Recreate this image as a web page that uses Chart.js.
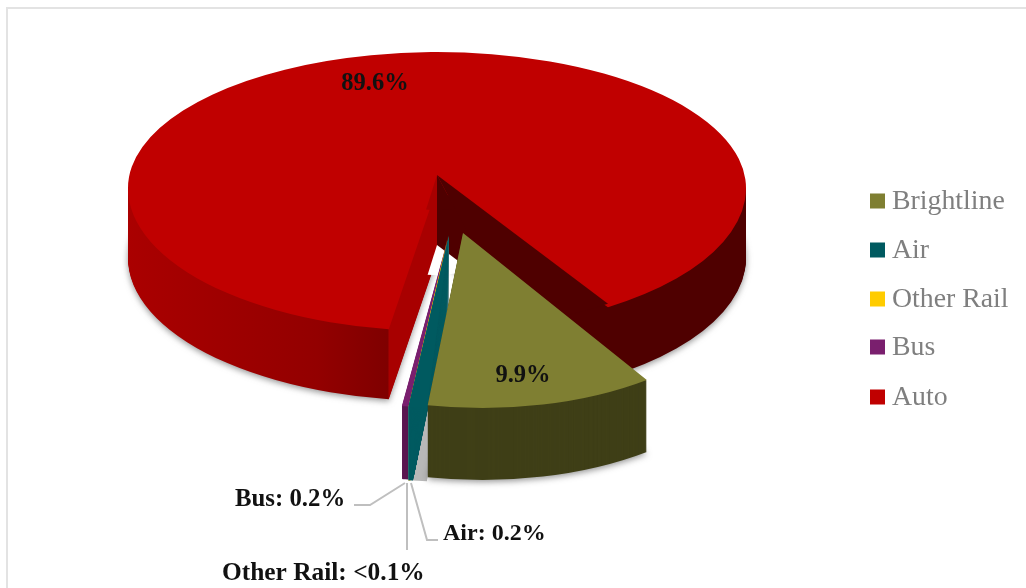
<!DOCTYPE html>
<html>
<head>
<meta charset="utf-8">
<style>
  html, body { margin: 0; padding: 0; background: #fff; }
  #frame { position: absolute; left: 6px; top: 7px; right: 0; bottom: 0; border-left: 2px solid #e3e3e3; border-top: 2px solid #e3e3e3; }
  #mainChart { position: absolute; left: 0; top: 0; }
</style>
</head>
<body>
<div id="frame"></div>
<canvas id="mainChart" width="1026" height="588"></canvas>
<script src="https://cdn.jsdelivr.net/npm/chart.js@4"></script>
<script>
const categories = ["Brightline", "Air", "Other Rail", "Bus", "Auto"];
const shares = [9.9, 0.2, 0.05, 0.2, 89.6];
const sliceColors = ["#7f7f32", "#005a60", "#ffcc00", "#7a1f6e", "#c00000"];

const pieRadius = 309;
const startRotation = 147;

// 3D look: where each slice sits, how much it is tilted and how tall its wall is.
// fromAdj / toAdj are degrees added to the slice edges, perspective widens the front of the pie
const sliceViews = [
  { x: 463, y: 233, k: 0.565, shear: 0.036, fromAdj: -3.5, toAdj: 3.9, depth: 72, wall: "#3f3f17", shadow: true },
  { x: 449, y: 235, k: 0.562, fromAdj: 1.44, toAdj: 4.2, depth: 73, wall: "#005a60", under: "#b8b8b8", taper: 2.6 },
  { x: 448, y: 236, k: 0.56, fromAdj: 3.6, toAdj: 3.84, depth: 73, wall: "#c9a000" },
  { x: 448, y: 238, k: 0.55, fromAdj: 3.84, toAdj: 4.3, depth: 73, wall: "#5a1650" },
  { x: 437, y: 188, k: 0.463, kBack: 0.44, fromAdj: 4.7, toAdj: -0.6, depth: 70, shadow: true }
];
const drawOrder = [4, 3, 2, 1, 0];

// the Auto walls, light on the left and dark on the right of the cut
const autoWallStops = [[-309, "#aa0000"], [-120, "#930000"], [-49, "#7f0000"], [-48, "#a80000"], [0, "#a80000"], [0.5, "#4f0000"], [309, "#4f0000"]];

const dataLabels = [
  { text: "89.6%", x: 375, y: 84, align: "center", size: 24.5 },
  { text: "9.9%", x: 523, y: 376, align: "center", size: 24.5 },
  { text: "Bus: 0.2%", x: 235, y: 500, align: "left", size: 24.8 },
  { text: "Air: 0.2%", x: 443, y: 534, align: "left", size: 24 },
  { text: "Other Rail: <0.1%", x: 222, y: 573, align: "left", size: 25.4 }
];
const leaderLines = [
  [[354, 505], [370, 505], [405, 483]],
  [[407, 483], [407, 550]],
  [[411, 483], [427, 540], [438, 540]]
];
const legendRows = [201, 250, 299, 347, 397];

function rad(deg) {
  return deg * Math.PI / 180;
}

// copy of the arc element with other edges and fill, still drawn by ArcElement.draw
function ghostArc(arc, view, fill, extraFrom) {
  const g = Object.create(arc);
  g.startAngle = arc.startAngle + rad(view.fromAdj + (extraFrom || 0));
  g.endAngle = arc.endAngle + rad(view.toAdj);
  g.circumference = g.endAngle - g.startAngle;
  g.options = { ...arc.options, backgroundColor: fill };
  return g;
}

function stamp(ctx, ghost, arc, view, k, dy) {
  ctx.save();
  ctx.translate(view.x, view.y + dy);
  ctx.transform(1, view.shear || 0, 0, k, 0, 0);
  ctx.translate(-arc.x, -arc.y);
  ghost.draw(ctx);
  ctx.restore();
}

function paintWalls(ctx, arc, view, fill, taper) {
  for (let i = view.depth; i >= 1; i--) {
    ctx.save();
    if (i === view.depth && view.shadow) {
      ctx.shadowColor = "rgba(60,60,60,0.55)";
      ctx.shadowBlur = 6;
      ctx.shadowOffsetY = 2;
    }
    stamp(ctx, ghostArc(arc, view, fill, taper * i / view.depth), arc, view, view.k, i);
    ctx.restore();
  }
}

function clipped(ctx, top, height, draw) {
  ctx.save();
  ctx.beginPath();
  ctx.rect(0, top, 1026, height);
  ctx.clip();
  draw();
  ctx.restore();
}

function notch(ctx, arc, apex, from, to, radius, fill) {
  const g = Object.create(arc);
  g.startAngle = rad(from);
  g.endAngle = rad(to);
  g.circumference = g.endAngle - g.startAngle;
  g.outerRadius = radius;
  g.options = { ...arc.options, backgroundColor: fill };
  stamp(ctx, g, arc, apex, 0.5, 0);
}

function paintAuto(ctx, arc, view) {
  const grad = ctx.createLinearGradient(arc.x - pieRadius, 0, arc.x + pieRadius, 0);
  autoWallStops.forEach(s => grad.addColorStop((s[0] + pieRadius) / (2 * pieRadius), s[1]));

  // walls only below the middle of the pie
  clipped(ctx, view.y, 588 - view.y, () => paintWalls(ctx, arc, view, grad, 0));

  // top face, the back half is a little flatter than the front
  const face = ghostArc(arc, view, arc.options.backgroundColor);
  clipped(ctx, view.y, 588 - view.y, () => stamp(ctx, face, arc, view, view.k, 0));
  clipped(ctx, 0, view.y, () => stamp(ctx, face, arc, view, view.kBack, 0));

  // the point of the cut sits above the middle of the ellipse
  const apex = { x: view.x, y: view.y - 13 };
  const cutRight = 146.4 - 90;
  const cutLeft = 189 - 90;
  notch(ctx, arc, apex, cutRight, 75, pieRadius, "#4f0000");
  notch(ctx, arc, apex, 75, 90, 70, "#4f0000");
  notch(ctx, arc, apex, 90, cutLeft, 70, "#a80000");
  // empty space under the inner corner of the walls
  notch(ctx, arc, { x: view.x, y: apex.y + view.depth }, cutRight, cutLeft, 60, "#ffffff");
}

const pie3d = {
  id: "pie3d",
  beforeDatasetsDraw(chart) {
    const ctx = chart.ctx;
    const arcs = chart.getDatasetMeta(0).data;
    drawOrder.forEach(idx => {
      const arc = arcs[idx];
      const view = sliceViews[idx];
      if (idx === 4) {
        paintAuto(ctx, arc, view);
        return;
      }
      if (view.under) paintWalls(ctx, arc, view, view.under, 0);
      paintWalls(ctx, arc, view, view.wall, view.taper || 0);
      stamp(ctx, ghostArc(arc, view, arc.options.backgroundColor), arc, view, view.k, 0);
    });
    return false;
  },
  afterDraw(chart) {
    const ctx = chart.ctx;
    ctx.save();

    ctx.strokeStyle = "#bfbfbf";
    ctx.lineWidth = 2;
    leaderLines.forEach(line => {
      ctx.beginPath();
      line.forEach((p, i) => i ? ctx.lineTo(p[0], p[1]) : ctx.moveTo(p[0], p[1]));
      ctx.stroke();
    });

    ctx.textBaseline = "middle";
    ctx.fillStyle = "#111111";
    dataLabels.forEach(l => {
      ctx.font = "bold " + l.size + "px 'Liberation Serif'";
      ctx.textAlign = l.align;
      ctx.fillText(l.text, l.x, l.y);
    });

    // legend
    ctx.textAlign = "left";
    ctx.font = "27.8px 'Liberation Serif'";
    categories.forEach((name, i) => {
      ctx.fillStyle = sliceColors[i];
      ctx.fillRect(870, legendRows[i] - 7.5, 15, 15);
      ctx.fillStyle = "#7f7f7f";
      ctx.fillText(name, 892, legendRows[i] + 1);
    });
    ctx.restore();
  }
};

new Chart(document.getElementById("mainChart"), {
  type: "pie",
  data: {
    labels: categories,
    datasets: [{
      data: shares,
      backgroundColor: sliceColors,
      borderWidth: 0,
      rotation: startRotation
    }]
  },
  options: {
    responsive: false,
    animation: false,
    events: [],
    radius: pieRadius,
    plugins: {
      legend: { display: false },
      tooltip: { enabled: false }
    }
  },
  plugins: [pie3d]
});
</script>
</body>
</html>
